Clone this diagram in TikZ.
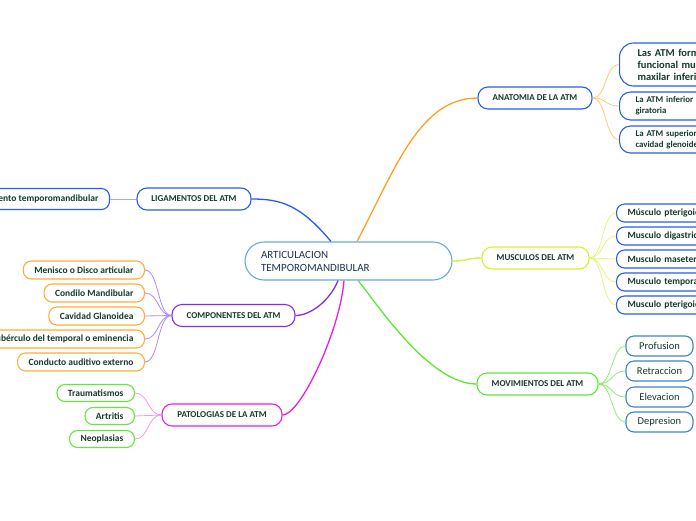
\documentclass[tikz,border=0pt]{standalone}
\usepackage{fontspec}
\setmainfont{Carlito}
\usetikzlibrary{positioning}

\definecolor{txt}{RGB}{20,58,42}
\definecolor{roottxt}{RGB}{30,50,80}
\definecolor{rootline}{RGB}{100,170,225}
\definecolor{cblue}{RGB}{40,92,235}
\definecolor{corange}{RGB}{255,160,30}
\definecolor{cyellow}{RGB}{212,240,50}
\definecolor{cgreen}{RGB}{90,232,50}
\definecolor{cpurple}{RGB}{135,45,230}
\definecolor{cmagenta}{RGB}{232,30,232}
\definecolor{csteel}{RGB}{62,132,200}
\definecolor{lorange}{RGB}{255,200,120}
\definecolor{lyellow}{RGB}{228,246,120}
\definecolor{lgreen}{RGB}{145,236,120}
\definecolor{lpurple}{RGB}{178,135,250}
\definecolor{lmagenta}{RGB}{242,150,242}
\definecolor{lblue}{RGB}{150,178,245}
\definecolor{cleaf}{RGB}{255,172,55}
\definecolor{gleaf}{RGB}{100,230,60}

\tikzset{
  rootbox/.style={draw=rootline, line width=1.1pt, rounded corners=19pt, fill=white,
    text=roottxt, font=\fontsize{11}{13}\selectfont, align=left, text width=175pt,
    inner xsep=16pt, inner ysep=0pt, minimum height=38pt},
  topic/.style={line width=1.1pt, rounded corners=10pt, fill=white, text=txt,
    font=\bfseries\fontsize{9}{10}\selectfont, inner xsep=4pt, inner ysep=0pt,
    minimum height=22pt},
  leaf/.style={line width=1.1pt, rounded corners=8pt, fill=white, text=txt,
    font=\bfseries\fontsize{9.5}{11}\selectfont, inner xsep=11pt, inner ysep=0pt,
    minimum height=18pt},
  mainlink/.style={line width=1.3pt},
  leaflink/.style={line width=0.8pt}
}

\begin{document}
\begin{tikzpicture}[x=1pt,y=-1pt]
\useasboundingbox (0,0) rectangle (696,520);
\clip (0,0) rectangle (696,520);

% Central topic and the main topics round it.
\node[rootbox] (root) at (348.5,261) {ARTICULACION\\TEMPOROMANDIBULAR};
\node[topic, draw=cblue, minimum width=114pt] (lig) at (194,199) {LIGAMENTOS DEL ATM};
\node[topic, draw=cpurple, minimum width=123pt] (comp) at (233.5,315.5) {COMPONENTES DEL ATM};
\node[topic, draw=cmagenta, minimum width=120pt] (pat) at (222,415) {PATOLOGIAS DE LA ATM};
\node[topic, draw=cblue, minimum width=114pt] (anat) at (535,98) {ANATOMIA DE LA ATM};
\node[topic, draw=cyellow, minimum width=107pt] (musc) at (535.5,258) {MUSCULOS DEL ATM};
\node[topic, draw=cgreen, minimum width=121pt] (mov) at (537.5,384) {MOVIMIENTOS DEL ATM};

% Main links.
\draw[mainlink, cblue] ([xshift=-17.5pt]root.north) .. controls +(-31,-37) and +(29,0) .. (lig.east);
\draw[mainlink, corange] ([xshift=8.5pt]root.north) .. controls +(38,-72) and +(-58,0) .. (anat.west);
\draw[mainlink, cyellow] (root.east) .. controls +(15,0) and +(-15,0) .. (musc.west);
\draw[mainlink, cgreen] ([xshift=9.5pt]root.south) .. controls +(17,20) and +(-48,0) .. (mov.west);
\draw[mainlink, cpurple] ([xshift=-10.5pt]root.south) .. controls +(-8,20) and +(15,0) .. (comp.east);
\draw[mainlink, cmagenta] ([xshift=-4.5pt]root.south) .. controls +(-4,50) and +(18,0) .. (pat.east);

% Ligamentos.
\node[leaf, draw=cblue, anchor=east, minimum height=21pt] (lig1) at (110,199) {Ligamento temporomandibular};
\draw[leaflink, lblue] (lig.west) -- (lig1.east);

% Componentes.
\node[leaf, draw=cleaf, anchor=east] (comp1) at (145,270) {Menisco o Disco articular};
\node[leaf, draw=cleaf, anchor=east] (comp2) at (145,293) {Condilo Mandibular};
\node[leaf, draw=cleaf, anchor=east] (comp3) at (145,316) {Cavidad Glanoidea};
\node[leaf, draw=cleaf, anchor=east] (comp4) at (145,339) {Tubérculo del temporal o eminencia};
\node[leaf, draw=cleaf, anchor=east] (comp5) at (145,362) {Conducto auditivo externo};
\draw[leaflink, lpurple] (comp.west) .. controls +(-14,0) and +(14,0) .. (comp1.east);
\draw[leaflink, lpurple] (comp.west) .. controls +(-14,0) and +(14,0) .. (comp2.east);
\draw[leaflink, lpurple] (comp.west) .. controls +(-14,0) and +(14,0) .. (comp3.east);
\draw[leaflink, lpurple] (comp.west) .. controls +(-14,0) and +(14,0) .. (comp4.east);
\draw[leaflink, lpurple] (comp.west) .. controls +(-14,0) and +(14,0) .. (comp5.east);

% Patologias.
\node[leaf, draw=gleaf, anchor=east, minimum height=17pt] (pat1) at (135,393) {Traumatismos};
\node[leaf, draw=gleaf, anchor=east, minimum height=17pt] (pat2) at (135,416) {Artritis};
\node[leaf, draw=gleaf, anchor=east, minimum height=17pt] (pat3) at (135,439) {Neoplasias};
\draw[leaflink, lmagenta] (pat.west) .. controls +(-14,0) and +(14,0) .. (pat1.east);
\draw[leaflink, lmagenta] (pat.west) .. controls +(-14,0) and +(14,0) .. (pat2.east);
\draw[leaflink, lmagenta] (pat.west) .. controls +(-14,0) and +(14,0) .. (pat3.east);

% Anatomia, cut by the right edge.
\node[leaf, draw=cblue, anchor=west, align=left, text width=90pt, inner xsep=18pt,
  rounded corners=14pt, minimum height=43pt, font=\bfseries\fontsize{10.5}{12}\selectfont]
  (anat1) at (619,64.5) {Las ATM forman\\funcional muy\\maxilar inferior};
\node[leaf, draw=cblue, anchor=west, align=left, text width=90pt, inner xsep=16pt,
  rounded corners=11pt, minimum height=28pt, font=\bfseries\fontsize{8.8}{11}\selectfont]
  (anat2) at (619,106) {La ATM inferior\\giratoria};
\node[leaf, draw=cblue, anchor=west, align=left, text width=90pt, inner xsep=16pt,
  rounded corners=11pt, minimum height=27pt, font=\bfseries\fontsize{8.8}{11}\selectfont]
  (anat3) at (619,139.5) {La ATM superior\\cavidad glenoidea};
\draw[leaflink, lorange] (anat.east) .. controls +(14,0) and +(-14,0) .. (anat1.west);
\draw[leaflink, lorange] (anat.east) .. controls +(14,0) and +(-14,0) .. (anat2.west);
\draw[leaflink, lorange] (anat.east) .. controls +(14,0) and +(-14,0) .. (anat3.west);

% Musculos, cut by the right edge.
\node[leaf, draw=cblue, anchor=west, align=left, text width=90pt] (musc1) at (616,213) {Músculo pterigoideo};
\node[leaf, draw=cblue, anchor=west, align=left, text width=90pt] (musc2) at (616,236) {Musculo digastrico};
\node[leaf, draw=cblue, anchor=west, align=left, text width=90pt] (musc3) at (616,259) {Musculo masetero};
\node[leaf, draw=cblue, anchor=west, align=left, text width=90pt] (musc4) at (616,282) {Musculo temporal};
\node[leaf, draw=cblue, anchor=west, align=left, text width=90pt] (musc5) at (616,305) {Musculo pterigoideo};
\draw[leaflink, lyellow] (musc.east) .. controls +(14,0) and +(-14,0) .. (musc1.west);
\draw[leaflink, lyellow] (musc.east) .. controls +(14,0) and +(-14,0) .. (musc2.west);
\draw[leaflink, lyellow] (musc.east) .. controls +(14,0) and +(-14,0) .. (musc3.west);
\draw[leaflink, lyellow] (musc.east) .. controls +(14,0) and +(-14,0) .. (musc4.west);
\draw[leaflink, lyellow] (musc.east) .. controls +(14,0) and +(-14,0) .. (musc5.west);

% Movimientos.
\node[leaf, draw=csteel, minimum width=67pt, minimum height=20pt, inner xsep=2pt,
  font=\fontsize{10.5}{12}\selectfont] (mov1) at (659.5,346) {Profusion};
\node[leaf, draw=csteel, minimum width=67pt, minimum height=20pt, inner xsep=2pt,
  font=\fontsize{10.5}{12}\selectfont] (mov2) at (659.5,371) {Retraccion};
\node[leaf, draw=csteel, minimum width=67pt, minimum height=20pt, inner xsep=2pt,
  font=\fontsize{10.5}{12}\selectfont] (mov3) at (659.5,397) {Elevacion};
\node[leaf, draw=csteel, minimum width=67pt, minimum height=20pt, inner xsep=2pt,
  font=\fontsize{10.5}{12}\selectfont] (mov4) at (659.5,422) {Depresion};
\draw[leaflink, lgreen] (mov.east) .. controls +(14,0) and +(-14,0) .. (mov1.west);
\draw[leaflink, lgreen] (mov.east) .. controls +(14,0) and +(-14,0) .. (mov2.west);
\draw[leaflink, lgreen] (mov.east) .. controls +(14,0) and +(-14,0) .. (mov3.west);
\draw[leaflink, lgreen] (mov.east) .. controls +(14,0) and +(-14,0) .. (mov4.west);
\end{tikzpicture}
\end{document}
